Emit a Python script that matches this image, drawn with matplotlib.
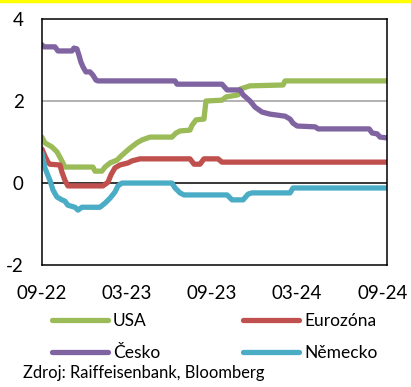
import matplotlib

matplotlib.use("Agg")
import matplotlib.pyplot as plt
from matplotlib.patches import Rectangle

plt.rcParams["font.family"] = ["Lato", "DejaVu Sans"]

# months since 09-2022
usa_x = [0, 0.21, 0.71, 1.06, 1.27, 1.48, 1.62, 3.60, 3.74, 4.23, 4.45, 4.80,
         5.29, 5.65, 6.21, 6.70, 7.06, 7.62, 9.17, 9.46, 9.74, 10.44, 10.59,
         10.87, 11.43, 11.57, 12.70, 12.99, 13.83, 13.97, 14.68, 17.01, 17.15,
         24.35]
usa_y = [1.12, 0.98, 0.88, 0.76, 0.63, 0.49, 0.39, 0.39, 0.29, 0.29, 0.39, 0.49,
         0.56, 0.68, 0.85, 0.98, 1.05, 1.12, 1.12, 1.22, 1.27, 1.29, 1.41,
         1.54, 1.56, 2.00, 2.02, 2.10, 2.15, 2.29, 2.37, 2.39, 2.49,
         2.49]

ez_x = [0, 0.21, 0.42, 0.56, 1.27, 1.41, 1.62, 1.83, 4.30, 4.66, 4.87, 5.15,
        5.50, 6.07, 6.35, 6.92, 10.44, 10.73, 11.15, 11.43, 12.42, 12.70, 24.35]
ez_y = [0.83, 0.66, 0.51, 0.46, 0.44, 0.27, 0.07, -0.07, -0.07, 0.02, 0.20, 0.37,
        0.44, 0.49, 0.54, 0.59, 0.59, 0.46, 0.46, 0.59, 0.59, 0.51, 0.51]

cz_x = [0, 0.15, 0.92, 1.13, 2.12, 2.26, 2.47, 2.61, 2.75, 2.90, 3.10, 3.39,
        3.60, 3.81, 3.95, 9.39, 9.53, 12.70, 13.06, 13.97, 14.19, 14.68, 15.03,
        15.53, 16.09, 17.15, 17.50, 17.71, 18.00, 19.27, 19.48, 23.08, 23.29,
        23.64, 23.85, 24.35]
cz_y = [3.37, 3.32, 3.32, 3.22, 3.22, 3.29, 3.27, 3.12, 2.95, 2.83, 2.71, 2.71,
        2.63, 2.51, 2.49, 2.49, 2.41, 2.41, 2.27, 2.27, 2.15, 2.00, 1.85,
        1.73, 1.68, 1.63, 1.56, 1.46, 1.39, 1.37, 1.32, 1.32, 1.22,
        1.20, 1.12, 1.10]

de_x = [0, 0.21, 0.56, 0.78, 1.06, 1.41, 1.62, 1.83, 2.33, 2.54, 2.82, 4.09,
        4.45, 4.80, 5.15, 5.36, 5.65, 9.17, 9.39, 9.74, 10.02, 13.06, 13.41,
        14.19, 14.54, 14.82, 17.50, 17.71, 24.35]
de_y = [0.73, 0.37, 0.07, -0.17, -0.34, -0.41, -0.44, -0.54, -0.59, -0.66, -0.59, -0.59,
        -0.49, -0.37, -0.22, -0.07, 0, 0, -0.12, -0.24, -0.29, -0.29, -0.41,
        -0.41, -0.27, -0.24, -0.24, -0.12, -0.12]

tick_pos = [0, 6, 12, 18, 24]
tick_labels = ["09-22", "03-23", "09-23", "03-24", "09-24"]

series = {
    "USA": (usa_x, usa_y, "#9bbb59"),
    "Eurozóna": (ez_x, ez_y, "#c0504d"),
    "Česko": (cz_x, cz_y, "#8064a2"),
    "Německo": (de_x, de_y, "#4bacc6"),
}

fig = plt.figure(figsize=(4.11, 3.87), dpi=100)
ax = fig.add_axes([0.102, 0.315, 0.840, 0.636])

ax.axhline(2, color="#a6a6a6", lw=1.2, zorder=1)
ax.axhline(0, color="black", lw=1.1, zorder=1)
lines = {}
for name, (xs, ys, col) in series.items():
    lines[name], = ax.plot(xs, ys, color=col, lw=3.8, label=name, zorder=2,
                           solid_capstyle="round", solid_joinstyle="round")

ax.set_xlim(0, 24.35)
ax.set_ylim(-2, 4)
ax.set_yticks([-2, 0, 2, 4])
ax.set_yticklabels(["-2", "0", "2", "4"])
ax.set_xticks(tick_pos)
ax.set_xticklabels(tick_labels)
ax.tick_params(axis="both", length=0, labelsize=13.5)
ax.tick_params(axis="y", pad=13)
ax.tick_params(axis="x", pad=14)
for sp in ax.spines.values():
    sp.set_color("black")
    sp.set_linewidth(1.1)

# legend fills column-wise, so order it to read USA | Eurozóna on the first row
order = ["USA", "Česko", "Eurozóna", "Německo"]
fig.legend([lines[n] for n in order], order, loc="upper left",
           bbox_to_anchor=(0.1265, 0.19), ncol=2, frameon=False,
           fontsize=12.5, handlelength=3.2, handletextpad=0.3,
           columnspacing=4.8, labelspacing=0.88, borderpad=0, borderaxespad=0)

fig.text(0.056, 0.024, "Zdroj: Raiffeisenbank, Bloomberg", fontsize=11.9,
         ha="left", va="baseline")

fig.patches.append(Rectangle((0, 0.994), 1, 0.006, transform=fig.transFigure,
                             color="#ffff00", zorder=0))

fig.savefig("out.png", dpi=100)
